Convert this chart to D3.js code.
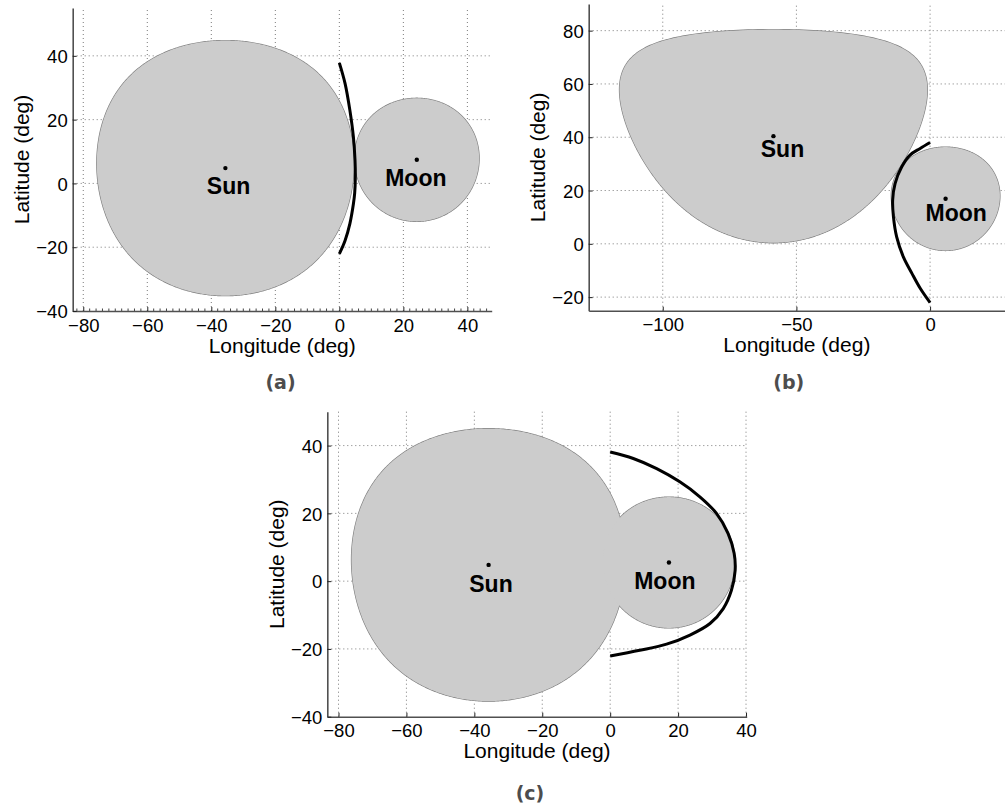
<!DOCTYPE html>
<html><head><meta charset="utf-8">
<script src="https://cdn.jsdelivr.net/npm/d3@7"></script>
<style>body{margin:0;background:#fff} svg{display:block}</style>
</head><body>
<svg id="chart" width="1005" height="809"></svg>
<script>
// ---- data ----
const panelNames = ["(a)", "(b)", "(c)"];
const xTicksA = [-80, -60, -40, -20, 0, 20, 40];
const yTicksA = [-40, -20, 0, 20, 40];
const xTicksB = [-100, -50, 0];
const yTicksB = [-20, 0, 20, 40, 60, 80];
const xTicksC = [-80, -60, -40, -20, 0, 20, 40];
const yTicksC = [-40, -20, 0, 20, 40];
const sunCenters = [[-35.6, 4.8], [-58.6, 40.4], [-35.8, 4.8]];
const sunRadii = [40, 40, 40.2];
const moonCenters = [[24.2, 7.4], [5.8, 16.9], [17.3, 5.5]];
const moonRadii = [19.3, 19.4, 19.3];
const sunLabels = [[-34.6, -3.4], [-55.2, 32.4], [-35.1, -3.2]];
const moonLabels = [[23.9, -0.9], [9.8, 8.6], [16.1, -2.4]];
const curveA = [[0, 37.8], [1.8, 31.3], [3.3, 22.9], [4.4, 14.5], [4.9, 7.2], [5.0, 2], [4.8, -3], [4.4, -6.4], [3.3, -12.6], [1.8, -17.9], [0, -22.1]];
const curveB = [[0, 38.0], [-3.7, 35.8], [-7.5, 33.3], [-10.6, 28.9], [-13.1, 22.6], [-14.0, 16.4], [-13.7, 10.1], [-12.5, 2.6], [-10.0, -4.9], [-6.8, -11.1], [-3.7, -16.7], [0, -22.1]];
const curveC = [[0, 38.1], [6.8, 36.2], [13.7, 33.2], [20.5, 29.3], [26.4, 24.9], [31.3, 20.0], [34.7, 14.1], [36.5, 8.2], [36.8, 3.2], [35.7, -2.7], [33.3, -8.1], [29.4, -12.5], [23.5, -15.9], [16.6, -18.6], [8.7, -20.4], [0, -22.1]];
const xLabel = "Longitude (deg)";
const yLabel = "Latitude (deg)";
const sunText = "Sun";
const moonText = "Moon";

// ---- layout ----
const layout = [
  {x0: 72.7, x1: 491.7, y0: 8, y1: 311, xd: [-83.3, 47.6], yd: [-40, 55], cap: [280.5, 389], xt: xTicksA, yt: yTicksA, curve: curveA, minor: true},
  {x0: 588.7, x1: 1006, y0: 4, y1: 310.7, xd: [-127.7, 28.4], yd: [-25.1, 90], cap: [788.7, 389], xt: xTicksB, yt: yTicksB, curve: curveB, minor: false},
  {x0: 327.3, x1: 746.7, y0: 411.7, y1: 716.7, xd: [-83.3, 40.2], yd: [-40, 50], cap: [530, 800], xt: xTicksC, yt: yTicksC, curve: curveC, minor: false}
];

const svg = d3.select("#chart");
const FONT = "'Liberation Sans', Arial, Helvetica, sans-serif";

layout.forEach((L, i) => {
  const x = d3.scaleLinear().domain(L.xd).range([L.x0, L.x1]);
  const y = d3.scaleLinear().domain(L.yd).range([L.y1, L.y0]);
  const g = svg.append("g");

  // grid
  const grid = g.append("g").attr("stroke", "#7a7a7a").attr("stroke-width", 1).attr("stroke-dasharray", "1,3");
  L.xt.forEach(t => {
    grid.append("line").attr("x1", x(t)).attr("x2", x(t)).attr("y1", L.y1).attr("y2", L.y0);
  });
  L.yt.forEach(t => {
    if (Math.abs(y(t) - L.y1) < 1) return;
    grid.append("line").attr("y1", y(t)).attr("y2", y(t)).attr("x1", L.x0).attr("x2", L.x1);
  });

  // shapes: spherical small circles via d3.geoCircle
  const line = d3.line().x(d => x(d[0])).y(d => y(d[1]));
  const rings = [
    d3.geoCircle().center(sunCenters[i]).radius(sunRadii[i]).precision(0.5)().coordinates[0],
    d3.geoCircle().center(moonCenters[i]).radius(moonRadii[i]).precision(0.5)().coordinates[0]
  ];
  rings.forEach(r => g.append("path").attr("d", line(r) + "Z")
    .attr("fill", "#cccccc").attr("stroke", "#7f7f7f").attr("stroke-width", 1.3));
  rings.forEach(r => g.append("path").attr("d", line(r) + "Z")
    .attr("fill", "#cccccc").attr("stroke", "none"));

  // black curve
  g.append("path").attr("d", d3.line().curve(d3.curveCatmullRom).x(d => x(d[0])).y(d => y(d[1]))(L.curve))
    .attr("fill", "none").attr("stroke", "#000").attr("stroke-width", 3).attr("stroke-linecap", "butt");

  // center dots
  [sunCenters[i], moonCenters[i]].forEach(c => {
    g.append("circle").attr("cx", x(c[0])).attr("cy", y(c[1])).attr("r", 2.2).attr("fill", "#000");
  });

  // labels
  [[sunLabels[i], sunText], [moonLabels[i], moonText]].forEach(([p, t]) => {
    g.append("text").attr("x", x(p[0])).attr("y", y(p[1])).attr("text-anchor", "middle")
      .attr("font-family", FONT).attr("font-weight", "bold").attr("font-size", 23).attr("fill", "#000").text(t);
  });

  // axes
  const xAxis = g.append("g").attr("transform", `translate(0,${L.y1})`)
    .call(d3.axisBottom(x).tickValues(L.xt).tickSize(-4).tickSizeOuter(0));
  const yAxis = g.append("g").attr("transform", `translate(${L.x0},0)`)
    .call(d3.axisLeft(y).tickValues(L.yt).tickSize(-4).tickSizeOuter(0));
  [xAxis, yAxis].forEach(a => {
    a.select(".domain").attr("stroke", "#505050").attr("stroke-width", 1.6);
    a.selectAll(".tick line").attr("stroke", "#222").attr("stroke-width", 1);
    a.selectAll("text").attr("font-family", FONT).attr("font-size", 18.5).attr("fill", "#000");
  });
  xAxis.selectAll("text").attr("y", 20.7).attr("dy", 0);
  yAxis.selectAll("text").attr("x", -5).attr("dy", "0.36em");

  if (L.minor) {
    const mg = g.append("g").attr("stroke", "#444").attr("stroke-width", 1);
    d3.range(-82, 48, 2).filter(v => v > L.xd[0] && v < L.xd[1] && !L.xt.includes(v)).forEach(v => {
      mg.append("line").attr("x1", x(v)).attr("x2", x(v)).attr("y1", L.y1).attr("y2", L.y1 - 2.5);
    });
  }

  // axis titles
  g.append("text").attr("x", (L.x0 + Math.min(L.x1, 1005)) / 2).attr("y", L.y1 + 41.7).attr("text-anchor", "middle")
    .attr("font-family", FONT).attr("font-size", 21).attr("fill", "#000").text(xLabel);
  g.append("text").attr("transform", `translate(${L.x0 - 43.5},${(L.y0 + L.y1) / 2}) rotate(-90)`)
    .attr("text-anchor", "middle").attr("font-family", FONT).attr("font-size", 21).attr("fill", "#000").text(yLabel);

  // caption
  svg.append("text").attr("x", L.cap[0]).attr("y", L.cap[1]).attr("text-anchor", "middle")
    .attr("font-family", "'DejaVu Sans', sans-serif").attr("font-weight", "bold").attr("font-size", 19).attr("fill", "#4d4d4d").text(panelNames[i]);
});
</script>
</body></html>
